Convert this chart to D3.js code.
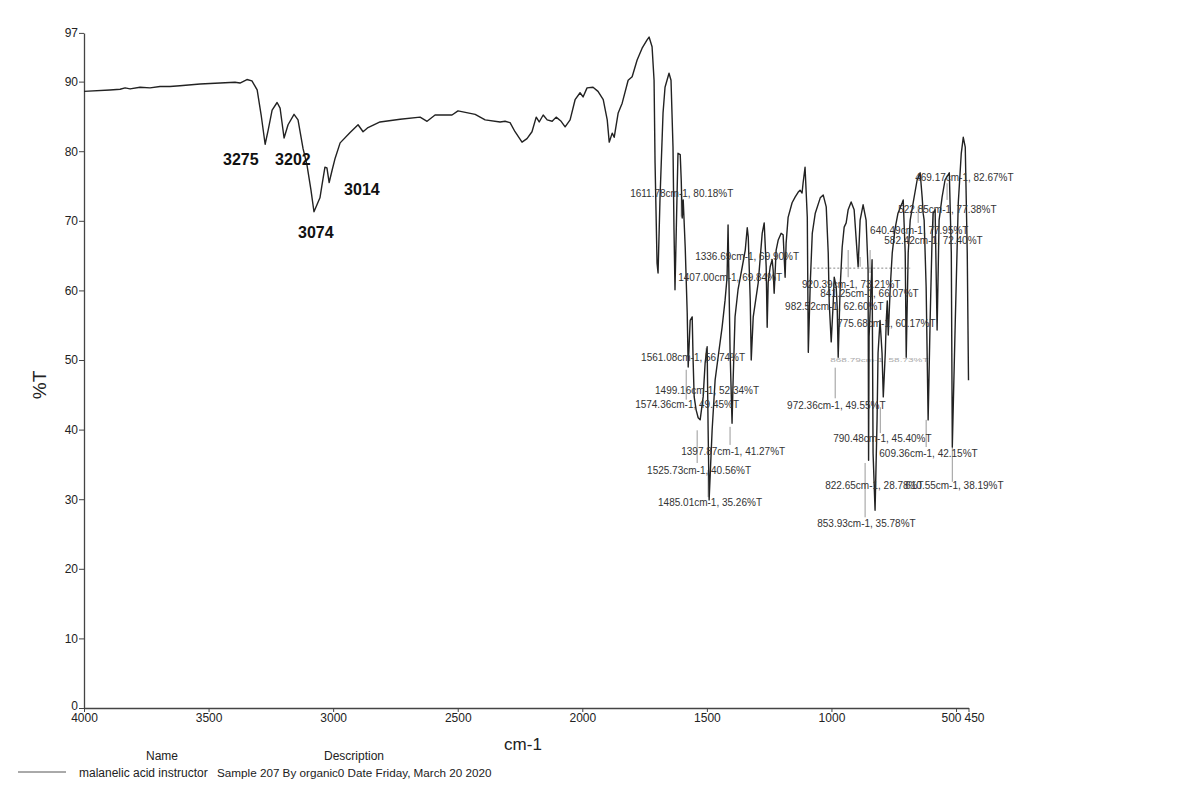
<!DOCTYPE html>
<html>
<head>
<meta charset="utf-8">
<script src="https://cdn.jsdelivr.net/npm/d3@7"></script>
<style>
  html, body { margin: 0; padding: 0; background: #fff; }
  svg { display: block; }
  text { font-family: "Liberation Sans", Arial, sans-serif; }
</style>
</head>
<body>
<svg id="chart" width="1200" height="805"></svg>
<script>
// ---- data (wavenumber cm-1, %T) ----
const spectrumWn = [4000,3896,3855,3835,3815,3775,3735,3695,3655,3615,3534,3454,3394,3374,3346,3326,3305,3289,3273,3261,3245,3225,3213,3197,3181,3157,3141,3121,3105,3089,3077,3065,3053,3045,3033,3025,3016,3004,2992,2972,2932,2900,2880,2860,2812,2731,2651,2623,2591,2523,2499,2430,2390,2330,2310,2290,2270,2242,2222,2202,2185,2173,2157,2141,2121,2105,2085,2069,2049,2029,2009,1997,1981,1957,1937,1916,1900,1892,1880,1872,1856,1840,1816,1800,1780,1760,1740,1732,1720,1712,1708,1700,1696,1688,1676,1668,1652,1644,1636,1632,1628,1620,1616,1607,1603,1599,1595,1587,1579,1575,1567,1559,1555,1551,1543,1535,1527,1515,1507,1499,1495,1491,1479,1467,1455,1439,1427,1419,1415,1407,1399,1395,1387,1375,1358,1346,1338,1334,1326,1322,1314,1298,1294,1278,1270,1262,1258,1254,1246,1238,1234,1230,1222,1214,1202,1194,1186,1182,1174,1158,1146,1134,1126,1118,1114,1106,1097,1093,1085,1077,1065,1045,1033,1021,1013,1009,1001,993,989,981,977,973,965,957,949,941,933,921,909,897,893,885,873,861,853,851,849,841,837,833,825,817,813,805,797,792,784,780,776,772,764,756,745,733,716,712,704,700,692,684,672,656,644,636,632,628,620,612,604,596,592,584,576,568,556,544,527,519,515,503,491,479,471,463,455,450];
const spectrumT = [88.6,88.8,88.9,89.1,88.95,89.2,89.1,89.3,89.3,89.4,89.65,89.8,89.9,89.8,90.3,90.1,88.8,85.2,81.0,83.0,85.9,87.0,86.2,81.9,83.8,85.3,84.5,80.4,78.0,74.4,71.3,72.3,73.3,75.1,77.7,77.6,75.5,77.3,79.0,81.2,82.7,83.8,82.8,83.4,84.2,84.6,84.9,84.3,85.2,85.2,85.8,85.3,84.5,84.2,84.3,84.1,82.8,81.3,81.8,82.8,84.9,84.2,85.2,84.5,84.3,84.9,84.3,83.5,84.5,87.4,88.4,87.8,89.1,89.2,88.6,87.4,84.5,81.3,82.6,82.0,85.5,86.9,90.2,90.7,93.1,94.8,96.0,96.4,95.0,90.2,78.3,63.9,62.5,73.4,85.5,89.2,91.2,90.2,80.6,68.7,60.1,73.4,79.7,79.5,75.9,70.4,73.0,66.2,56.8,49.0,55.7,56.2,49.6,44.7,42.8,41.7,41.4,44.7,49.6,51.9,39.9,29.9,39.9,47.1,50.4,54.7,58.6,61.9,69.4,51.4,40.9,46.7,56.2,60.1,63.4,65.8,69.0,67.7,58.6,50.0,56.2,60.1,61.1,68.2,69.7,63.4,54.7,61.1,63.4,64.4,62.9,59.6,65.8,67.2,68.2,68.0,61.9,66.8,70.5,72.6,73.4,74.1,74.4,74.0,75.4,77.7,70.5,51.1,61.1,68.2,71.1,73.3,73.7,72.0,65.4,58.2,52.6,58.2,61.9,60.5,57.6,50.4,60.5,66.2,69.1,69.7,71.6,72.7,71.6,65.4,63.4,70.1,72.3,70.1,62.9,35.6,53.3,60.5,64.4,36.6,28.4,41.4,51.0,55.7,51.0,44.7,51.0,55.7,58.5,53.6,60.5,65.4,68.8,71.1,72.6,73.0,65.4,50.4,65.4,70.1,72.6,75.9,76.9,73.4,71.1,70.1,60.5,41.4,55.7,67.7,71.1,71.6,54.3,70.1,73.4,75.9,76.9,65.4,37.5,55.7,72.6,79.7,82.0,80.6,65.4,47.1];

const yTicks = [0,10,20,30,40,50,60,70,80,90,97];
const xTicks = [4000,3500,3000,2500,2000,1500,1000,500,450];

// bold peak labels: text, wn, %T (anchor = left/baseline)
const peakText = ["3275","3202","3014","3074"];
const peakWn   = [3442,3233,2956,3141];
const peakT    = [78.0,78.0,73.7,67.5];

// instrument peak-pick labels: text, wn, %T (anchor = left/baseline)
const pickText = ["1611.78cm-1, 80.18%T","1336.69cm-1, 69.90%T","1407.00cm-1, 69.84%T","1561.08cm-1, 56.74%T","1499.16cm-1, 52.34%T","1574.36cm-1, 49.45%T","1397.87cm-1, 41.27%T","1525.73cm-1, 40.56%T","1485.01cm-1, 35.26%T","972.36cm-1, 49.55%T","790.48cm-1, 45.40%T","609.36cm-1, 42.15%T","822.65cm-1, 28.78%T","610.55cm-1, 38.19%T","853.93cm-1, 35.78%T","469.17cm-1, 82.67%T","522.85cm-1, 77.38%T","640.49cm-1, 77.95%T","582.42cm-1, 72.40%T","920.39cm-1, 73.21%T","841.25cm-1, 66.07%T","982.52cm-1, 62.60%T","775.68cm-1, 60.17%T"];
const pickWn = [1808,1547,1615,1764,1708,1788,1603,1740,1696,1178,993,808,1025,704,1057,664,732,845,788,1118,1045,1186,977];
const pickT  = [73.4,64.4,61.4,49.9,45.1,43.1,36.4,33.6,29.0,43.0,38.2,36.1,31.5,31.5,26.0,75.7,71.1,68.1,66.7,60.3,59.1,57.2,54.7];

// leader lines: wn, T top, T bottom
const leadWn  = [1603,1583,1539,1495,1407,1503,985,804,620,515,865,933,885,845,652,536,592];
const leadT1  = [74.0,48.6,39.9,34.2,40.4,51.7,48.9,43.2,41.4,37.5,35.2,65.8,64.8,65.8,72.0,75.4,71.1];
const leadT2  = [70.6,44.3,35.2,30.3,37.8,49.6,44.5,39.5,37.5,32.5,27.4,61.9,63.4,62.5,69.7,73.0,68.7];

// dashed marker and faint squeezed label
const dashWn = [1073,684];
const dashT = 63.2;
const faintText = "868.79cm-1, 58.73%T";
const faintWn = 1005, faintT = 49.7;

// ---- drawing ----
const svg = d3.select("#chart");
const x = d3.scaleLinear().domain([4000,450]).range([84,968.5]);
const y = d3.scaleLinear().domain([0,97]).range([708,32.9]);

// y axis
const yAxis = svg.append("g").attr("transform","translate(84,0)")
  .call(d3.axisLeft(y).tickValues(yTicks).tickSize(5).tickSizeOuter(0).tickPadding(1));
yAxis.selectAll("text").attr("font-size",12).attr("fill","#222")
  .attr("font-family","Liberation Sans, Arial, sans-serif");
yAxis.selectAll(".tick").filter(d=>d===0).select("text").attr("dy","0.1em");
yAxis.selectAll("line").attr("stroke","#444");
yAxis.select(".domain").attr("stroke","#444").attr("stroke-width",1.3);

// x axis
const xAxis = svg.append("g").attr("transform","translate(0,708)")
  .call(d3.axisBottom(x).tickValues(xTicks).tickSize(4).tickSizeOuter(0).tickPadding(1).tickFormat(d3.format("d")));
xAxis.selectAll("text").attr("font-size",12).attr("fill","#222")
  .attr("font-family","Liberation Sans, Arial, sans-serif");
xAxis.selectAll(".tick").filter(d=>d===500).select("text").attr("dx",-5);
xAxis.selectAll(".tick").filter(d=>d===450).select("text").attr("dx",5.5);
xAxis.selectAll("line").attr("stroke","#444");
xAxis.select(".domain").attr("stroke","#444").attr("stroke-width",1.3);

// axis titles
svg.append("text").attr("transform","translate(46,385) rotate(-90)")
  .attr("text-anchor","middle").attr("font-size",19).attr("fill","#222").text("%T");
svg.append("text").attr("x",523).attr("y",750)
  .attr("text-anchor","middle").attr("font-size",17).attr("fill","#222").text("cm-1");

// dashed marker
svg.append("line").attr("x1",x(dashWn[0])).attr("x2",x(dashWn[1]))
  .attr("y1",y(dashT)).attr("y2",y(dashT))
  .attr("stroke","#888").attr("stroke-width",1).attr("stroke-dasharray","2,2");

// leader lines
svg.append("g").selectAll("line").data(leadWn).join("line")
  .attr("x1",(d)=>x(d)).attr("x2",(d)=>x(d))
  .attr("y1",(d,i)=>y(leadT1[i])).attr("y2",(d,i)=>y(leadT2[i]))
  .attr("stroke","#999").attr("stroke-width",1);

// faint squeezed label
svg.append("text").attr("transform",`translate(${x(faintWn)},${y(faintT)}) scale(1,0.45)`)
  .attr("font-size",10).attr("fill","#aaa").text(faintText);

// spectrum
const pts = spectrumWn.map((w,i)=>[w,spectrumT[i]]);
svg.append("path").datum(pts)
  .attr("fill","none").attr("stroke","#222").attr("stroke-width",1.4)
  .attr("stroke-linejoin","round")
  .attr("d", d3.line().x(d=>x(d[0])).y(d=>y(d[1])));

// pick labels
svg.append("g").selectAll("text").data(pickText).join("text")
  .attr("x",(d,i)=>x(pickWn[i])).attr("y",(d,i)=>y(pickT[i]))
  .attr("font-size",10).attr("fill","#333").text(d=>d);

// bold peak labels
svg.append("g").selectAll("text").data(peakText).join("text")
  .attr("x",(d,i)=>x(peakWn[i])).attr("y",(d,i)=>y(peakT[i]))
  .attr("font-family","Liberation Serif, Times New Roman, serif")
  .attr("font-weight","bold").attr("font-size",16).attr("fill","#111").text(d=>d);

// legend
svg.append("text").attr("x",162).attr("y",760).attr("text-anchor","middle")
  .attr("font-size",12).attr("fill","#222").text("Name");
svg.append("text").attr("x",354).attr("y",760).attr("text-anchor","middle")
  .attr("font-size",12).attr("fill","#222").text("Description");
svg.append("line").attr("x1",18).attr("x2",66).attr("y1",772).attr("y2",772)
  .attr("stroke","#555").attr("stroke-width",1);
svg.append("text").attr("x",79).attr("y",777)
  .attr("font-size",12).attr("fill","#222").text("malanelic acid instructor");
svg.append("text").attr("x",217).attr("y",777)
  .attr("font-size",11.7).attr("fill","#222").text("Sample 207 By organic0 Date Friday, March 20 2020");
</script>
</body>
</html>
